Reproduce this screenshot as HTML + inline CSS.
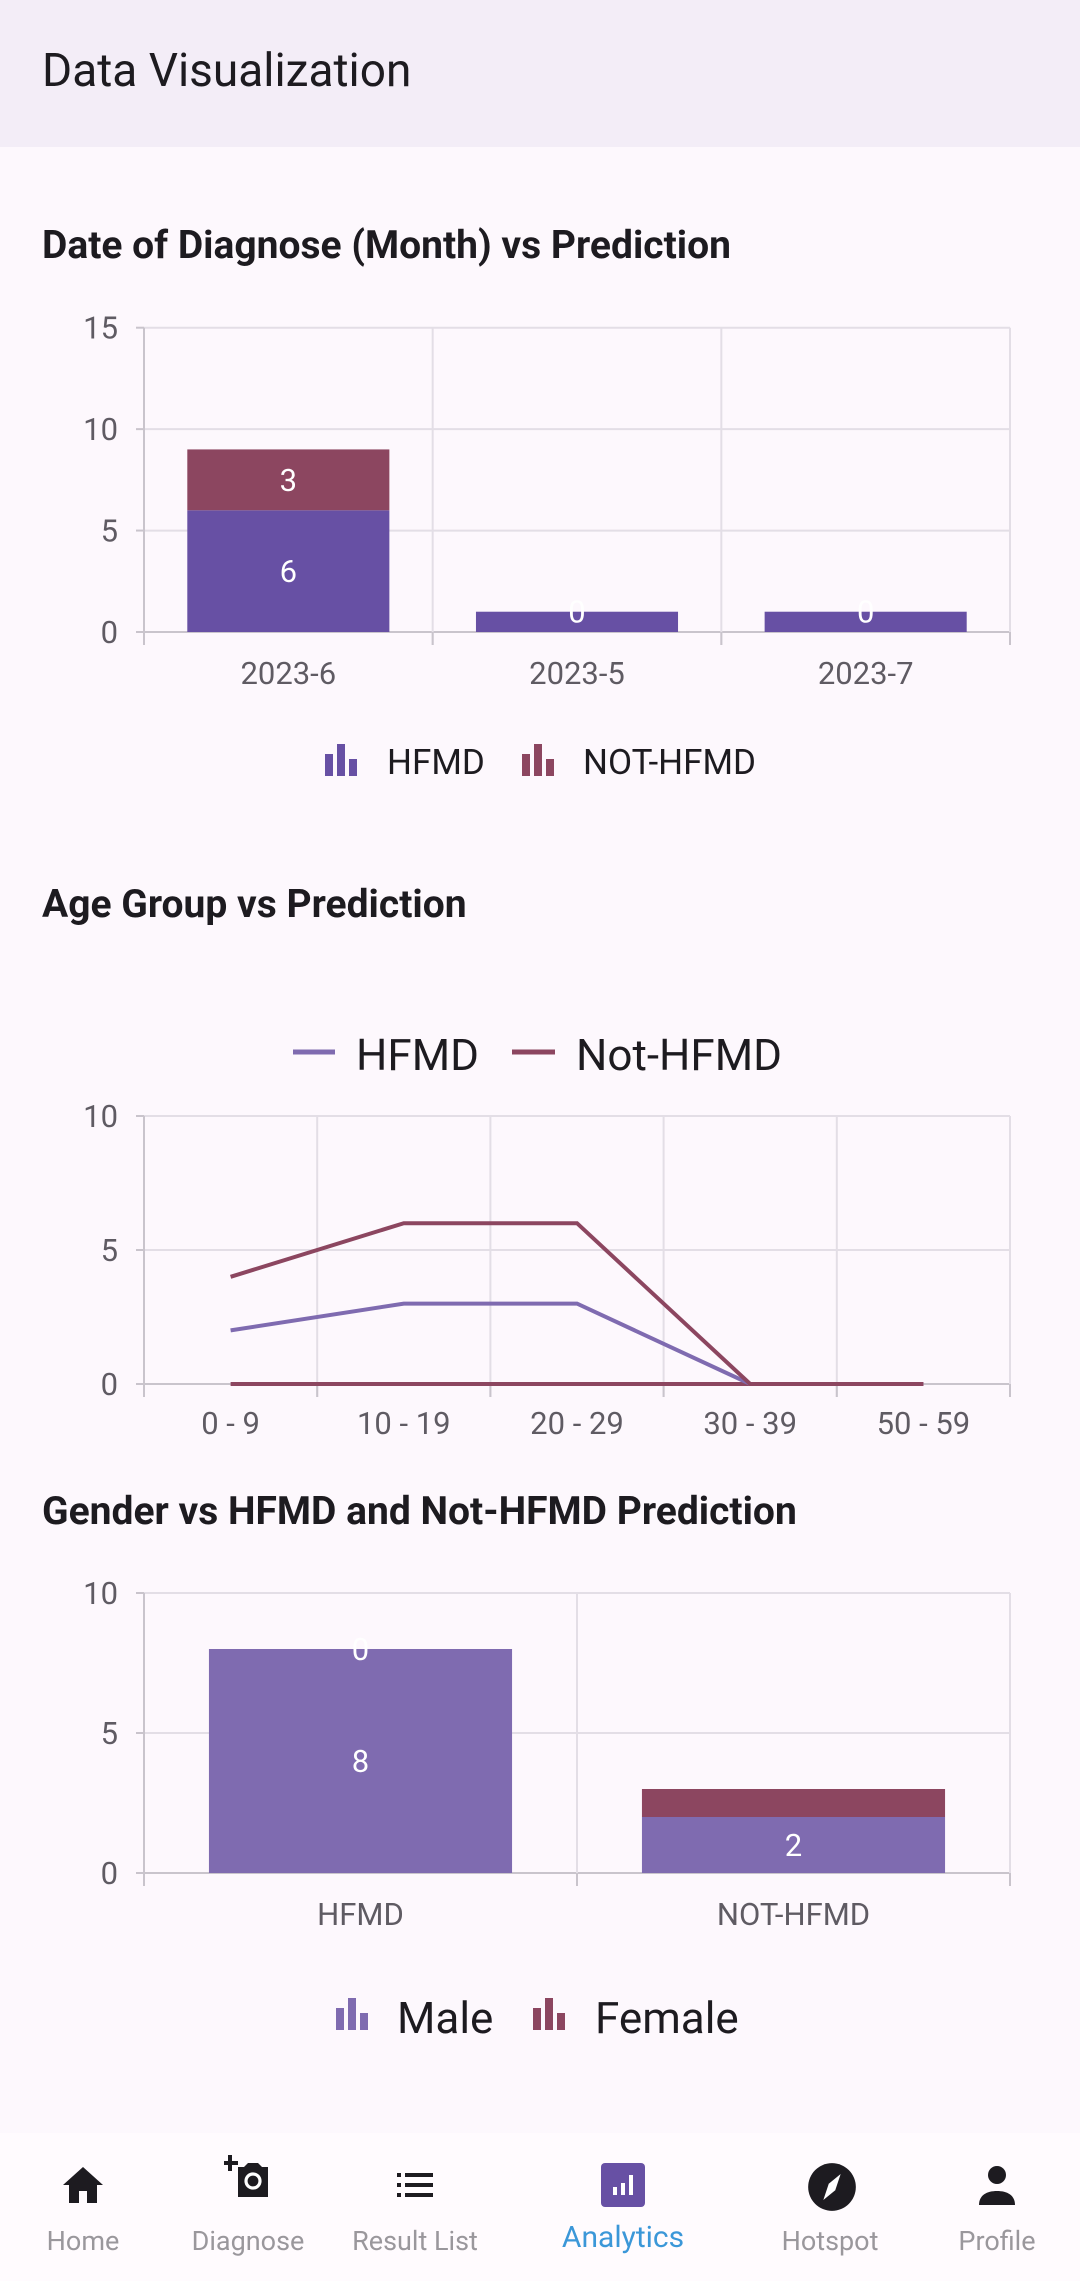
<!DOCTYPE html>
<html><head><meta charset="utf-8"><style>
html,body{margin:0;padding:0;width:1080px;height:2281px;overflow:hidden;background:#fdf8fd;font-family:"Roboto","Liberation Sans",sans-serif;}
#hdr{position:absolute;left:0;top:0;width:1080px;height:147px;background:#f3edf7;}
#hdr span{position:absolute;left:42px;top:44px;font-size:46px;color:#1d1b20;}
.ttl{position:absolute;left:42px;font-size:39px;font-weight:bold;color:#1d1b20;}
#nav{position:absolute;left:0;top:2133px;width:1080px;height:148px;background:#fffbfe;}
.ni{position:absolute;top:0;width:160px;margin-left:-80px;text-align:center;}
.ni svg{position:absolute;left:56px;top:28px;}
.ni span{position:absolute;left:0;width:160px;top:92px;font-size:27px;color:#9a979c;}
svg text{font-family:"Roboto","Liberation Sans",sans-serif;}
</style></head><body>
<div id="hdr"><span>Data Visualization</span></div>
<div class="ttl" style="top:222px">Date of Diagnose (Month) vs Prediction</div>
<div class="ttl" style="top:881px">Age Group vs Prediction</div>
<div class="ttl" style="top:1488px">Gender vs HFMD and Not-HFMD Prediction</div>
<svg id="charts" width="1080" height="2133" style="position:absolute;left:0;top:0"></svg>
<div id="nav">
 <div class="ni" style="left:83px"><svg width="48" height="48" viewBox="0 0 24 24"><path d="M12 3L2 12h3v9h5v-6h4v6h5v-9h3z" fill="#1d1b20"/></svg><span>Home</span></div>
 <div class="ni" style="left:248px"><svg width="48" height="56" viewBox="0 0 24 26" style="top:18px"><path d="M2 1h2v3h3v2H4v3H2V6H0V4h2z" fill="#1d1b20"/><path d="M7 7h3l2-2h5l2 2h3v15H7z" fill="#1d1b20"/><circle cx="14.5" cy="14" r="3.5" fill="none" stroke="#fff" stroke-width="1.6"/></svg><span>Diagnose</span></div>
 <div class="ni" style="left:415px"><svg width="48" height="48" viewBox="0 0 24 24"><path d="M3 6h2v2H3zm4 0h14v2H7zM3 11h2v2H3zm4 0h14v2H7zM3 16h2v2H3zm4 0h14v2H7z" fill="#1d1b20"/></svg><span>Result List</span></div>
 <div class="ni" style="left:623px"><svg width="48" height="48" viewBox="0 0 24 24"><rect x="1" y="1" width="22" height="22" rx="2" fill="#6750a4"/><path d="M7 13h2v4H7zm4-2h2v6h-2zm4-4h2v10h-2z" fill="#fff"/></svg><span style="color:#3b97d8;font-size:30px;top:87px">Analytics</span></div>
 <div class="ni" style="left:830px"><svg width="52" height="52" viewBox="0 0 24 24"><circle cx="12" cy="12" r="11" fill="#1d1b20"/><path d="M16 6l-2.5 7.5L8 18l2.5-7.5z" fill="#fff"/></svg><span>Hotspot</span></div>
 <div class="ni" style="left:997px"><svg width="48" height="48" viewBox="0 0 24 24"><circle cx="12" cy="7" r="4.5" fill="#1d1b20"/><path d="M3 22c0-5 4-7 9-7s9 2 9 7z" fill="#1d1b20"/></svg><span>Profile</span></div>
</div>
<script>
// chart 1 data
const c1Cats=["2023-6","2023-5","2023-7"];
const c1Hfmd=[6,1,1];
const c1Not=[3,0,0];
const c1Ticks=[0,5,10,15];
// chart 2 data
const c2Cats=["0 - 9","10 - 19","20 - 29","30 - 39","50 - 59"];
const c2Hfmd=[2,3,3,0,0];
const c2Not=[4,6,6,0,0];
const c2Base=[0,0,0,0,0];
const c2Ticks=[0,5,10];
// chart 3 data
const c3Cats=["HFMD","NOT-HFMD"];
const c3Male=[8,2];
const c3Female=[0,1];
const c3Ticks=[0,5,10];

const NS="http://www.w3.org/2000/svg";
const svg=document.getElementById('charts');
function mk(tag,attrs,parent,txt){const e=document.createElementNS(NS,tag);for(const k in attrs)e.setAttribute(k,attrs[k]);if(txt!==undefined)e.textContent=txt;(parent||svg).appendChild(e);return e;}
const L=144,R=1010,HF='#6750a4',NT='#8c4660',HF2='#7f6bb0';

function frame(top,bot,max,ticks,n,name,catsY,cats,tickLen){
  const g=mk('g',{});
  
  
  const y=v=>bot-(v/max)*(bot-top);
  const cw=(R-L)/n;
  ticks.forEach(t=>{
    mk('line',{x1:L,x2:R,y1:y(t),y2:y(t),stroke:t===0?'#c9c4cc':'#e3dee6','stroke-width':2},g);
    mk('line',{x1:L-8,x2:L,y1:y(t),y2:y(t),stroke:'#c9c4cc','stroke-width':2},g);
    const tx=mk('text',{x:L-26,y:y(t)+11,'text-anchor':'end','font-size':31,fill:'#5f5b63'},g,t);
    
    
  });
  for(let i=0;i<=n;i++){const x=L+i*cw;mk('line',{x1:x,x2:x,y1:top,y2:bot+tickLen,stroke:i===0?'#c9c4cc':'#e3dee6','stroke-width':2},g);
    mk('line',{x1:x,x2:x,y1:bot,y2:bot+tickLen,stroke:'#c9c4cc','stroke-width':2},g);}
  cats.forEach((c,i)=>{const tx=mk('text',{x:L+(i+.5)*cw,y:catsY,'text-anchor':'middle','font-size':31,fill:'#5f5b63'},g,c);
    
    });
  return {y,cw};
}
function stacked(name,top,bot,max,ticks,cats,a,b,ca,cb,catsY){
  const f=frame(top,bot,max,ticks,cats.length,name,catsY,cats,13);
  cats.forEach((c,i)=>{
    const bw=f.cw*0.7,x=L+(i+.5)*f.cw-bw/2;
    const r1=mk('rect',{x:x,y:f.y(a[i]),width:bw,height:f.y(0)-f.y(a[i]),fill:ca});
    
    
    const r2=mk('rect',{x:x,y:f.y(a[i]+b[i]),width:bw,height:f.y(a[i])-f.y(a[i]+b[i]),fill:cb});
    
    
    const cx=x+bw/2;
    const ha=f.y(0)-f.y(a[i]), hb=f.y(a[i])-f.y(a[i]+b[i]);
    const ya=(f.y(0)+f.y(a[i]))/2, yb=(f.y(a[i])+f.y(a[i]+b[i]))/2;
    if(ha===0||ha>=40){
      const t1=mk('text',{x:cx,y:ya+11,'text-anchor':'middle','font-size':31,fill:'#fff'},svg,a[i]);
      
      
    }
    if(hb===0||hb>=40){
      const t2=mk('text',{x:cx,y:yb+11,'text-anchor':'middle','font-size':31,fill:'#fff'},svg,b[i]);
      
      
    }
  });
}
function barIcon(x,y,c,name){const g=mk('g',{});
  
  
  mk('rect',{x:x,y:y-14,width:8,height:22,fill:c},g);mk('rect',{x:x+12,y:y-24,width:8,height:32,fill:c},g);mk('rect',{x:x+24,y:y-9,width:8,height:17,fill:c},g);}
function legText(x,y,t,size,name){const e=mk('text',{x:x,y:y,'font-size':size,fill:'#1d1b20'},svg,t);
  
  }

// chart 1
stacked('chart1',327.7,632,15,c1Ticks,c1Cats,c1Hfmd,c1Not,HF,NT,684);
barIcon(325,768,HF,'legend-hfmd-icon');legText(387,774,'HFMD',35,'legend-hfmd');
barIcon(522,768,NT,'legend-not-hfmd-icon');legText(583,774,'NOT-HFMD',35,'legend-not-hfmd');

// chart 2
(function(){
  const top=1116,bot=1384;
  const f=frame(top,bot,10,c2Ticks,c2Cats.length,'chart2',1434,c2Cats,13);
  const x=i=>L+(i+.5)*f.cw;
  [[c2Base,NT,'series-baseline'],[c2Hfmd,HF2,'series-hfmd'],[c2Not,NT,'series-not-hfmd']].forEach(s=>{
    const p=mk('polyline',{points:s[0].map((v,i)=>x(i)+','+f.y(v)).join(' '),fill:'none',stroke:s[1],'stroke-width':4});
    
    
  });
  const l1=mk('line',{x1:293,x2:335,y1:1052,y2:1052,stroke:HF2,'stroke-width':5});
  
  
  legText(356,1070,'HFMD',44,'legend2-hfmd');
  const l2=mk('line',{x1:512,x2:555,y1:1052,y2:1052,stroke:NT,'stroke-width':5});
  
  
  legText(576,1070,'Not-HFMD',44,'legend2-not-hfmd');
})();

// chart 3
stacked('chart3',1593,1873,10,c3Ticks,c3Cats,c3Male,c3Female,HF2,NT,1925);
barIcon(336,2022,HF2,'legend-male-icon');legText(397,2033,'Male',44,'legend-male');
barIcon(533,2022,NT,'legend-female-icon');legText(595,2033,'Female',44,'legend-female');
</script>
</body></html>
